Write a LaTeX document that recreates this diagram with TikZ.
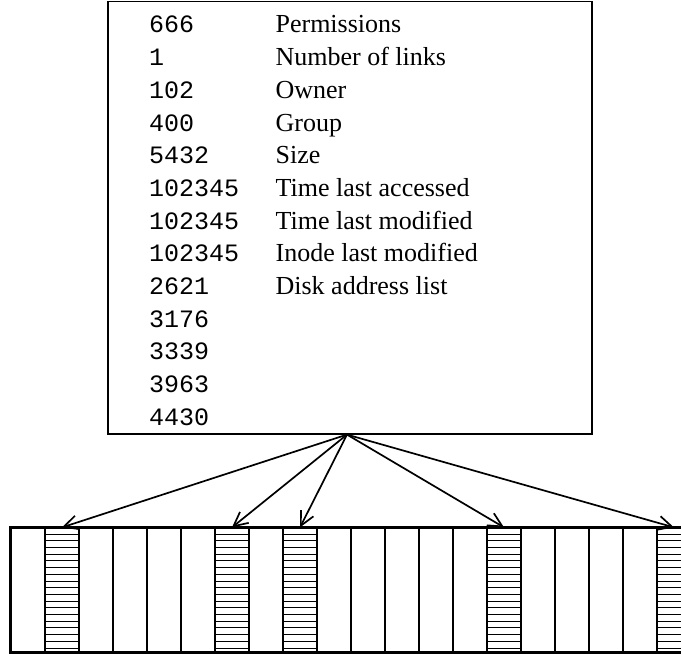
\documentclass[tikz,border=0pt]{standalone}
\usepackage{fontspec}
\setmainfont{Liberation Serif}
\setmonofont{Liberation Mono}
\usepackage{tikz}
\usetikzlibrary{arrows.meta,positioning,calc}

\begin{document}
\begin{tikzpicture}[x=1pt, y=1pt, node distance=9.3pt, inodebox/.style={draw, line width=1.2pt, minimum width=484pt, minimum height=432.5pt, inner sep=0pt}, num/.style={inner sep=0pt, text width=126pt, align=left, text height=17pt, text depth=6pt, font=\fontsize{25}{28}\selectfont\ttfamily}, lbl/.style={inner sep=0pt, text height=17pt, text depth=6pt, font=\fontsize{26}{28}\selectfont}, cell/.style={draw, line width=1.2pt, minimum width=34pt, minimum height=124pt, inner sep=0pt}, hatch/.style={line width=0.9pt}, arrow/.style={-{Straight Barb[length=14pt,width=14pt]}, line width=1.7pt}]
\useasboundingbox (0,0) rectangle (681,654);
\clip (0,0) rectangle (681,654);
\node[inodebox] (inode) at (350,436.25) {};
\node[num, anchor=base west] at (149,621) (perm) {666};
\node[num, below=of perm]  (links) {1};
\node[num, below=of links] (owner) {102};
\node[num, below=of owner] (grp)   {400};
\node[num, below=of grp]   (size)  {5432};
\node[num, below=of size]  (atime) {102345};
\node[num, below=of atime] (mtime) {102345};
\node[num, below=of mtime] (ctime) {102345};
\node[num, below=of ctime] (da)    {2621};
\node[num, below=of da]    (db)    {3176};
\node[num, below=of db]    (dc)    {3339};
\node[num, below=of dc]    (dd)    {3963};
\node[num, below=of dd]    (de)    {4430};
\node[lbl, right=0pt of perm,  anchor=west] (permL)  {Permissions};
\node[lbl, right=0pt of links, anchor=west] (linksL) {Number of links};
\node[lbl, right=0pt of owner, anchor=west] (ownerL) {Owner};
\node[lbl, right=0pt of grp,   anchor=west] (grpL)   {Group};
\node[lbl, right=0pt of size,  anchor=west] (sizeL)  {Size};
\node[lbl, right=0pt of atime, anchor=west] (atimeL) {Time last accessed};
\node[lbl, right=0pt of mtime, anchor=west] (mtimeL) {Time last modified};
\node[lbl, right=0pt of ctime, anchor=west] (ctimeL) {Inode last modified};
\node[lbl, right=0pt of da,    anchor=west] (daL)    {Disk address list};
\foreach \k in {0,...,19}
  \node[cell] (c\k) at (11+34*\k+17,64) {};
\foreach \h in {1,6,8,14,19}
  \foreach \i in {1,...,18}
    \draw[hatch] ([yshift=-\i*6.7pt]c\h.north west) -- ([yshift=-\i*6.7pt]c\h.north east);
\draw[line width=2.6pt] (c0.south west) rectangle (c19.north east);
\coordinate (src) at ([xshift=-3pt]inode.south);
\draw[arrow](src)--(c1.north); \draw[arrow](src)--(c6.north); \draw[arrow](src)--(c8.north); \draw[arrow](src)--(c14.north); \draw[arrow](src)--(c19.north);
\end{tikzpicture}
\end{document}
